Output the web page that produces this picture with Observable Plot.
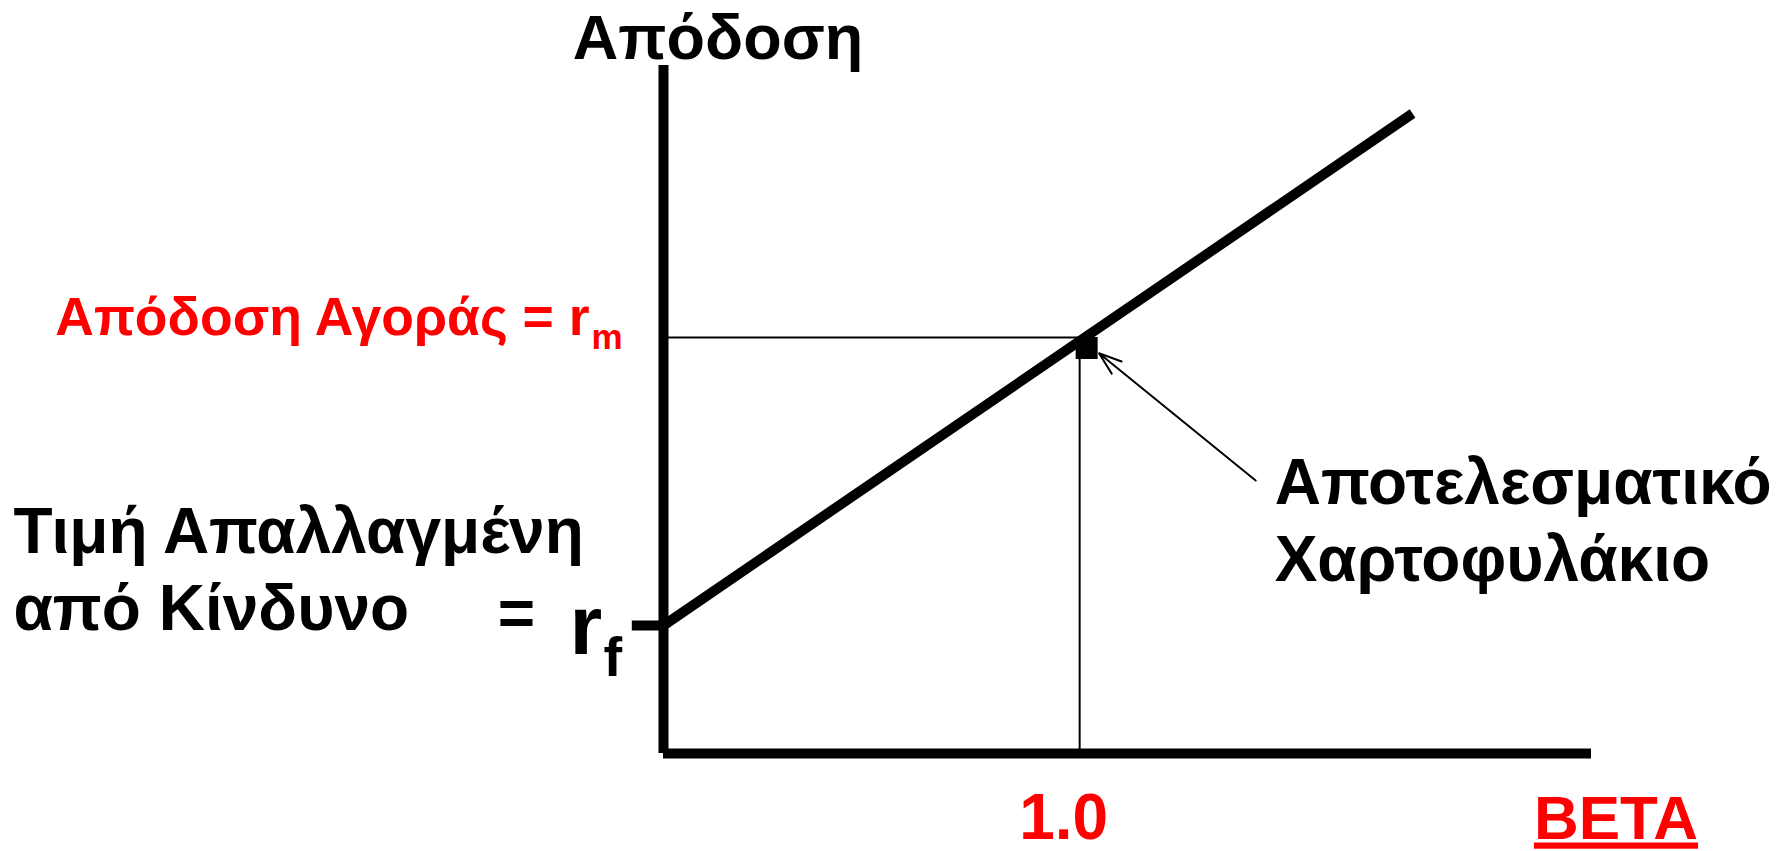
<!DOCTYPE html>
<html>
<head>
<meta charset="utf-8">
<script src="https://cdn.jsdelivr.net/npm/d3@7"></script>
<script src="https://cdn.jsdelivr.net/npm/@observablehq/plot@0.6"></script>
<style>
  html, body { margin: 0; padding: 0; background: #fff; overflow: hidden; }
  #chart svg { display: block; background: #fff; }
</style>
</head>
<body>
<div id="chart"></div>
<script>
// ---- data ----
const smlBeta = [0, 1.8];          // security market line end points (beta)
const smlReturn = [4, 20];         // corresponding returns (arbitrary units)
const riskFreeRate = [4];          // r_f
const marketReturn = [13];         // r_m
const marketBeta = [1.0];          // beta of the market (efficient) portfolio
const betaDomain = [0, 2.23];
const returnDomain = [0, 21.5];
const annotationBeta = [1.423];    // where the arrow label sits
const annotationReturn = [8.53];

// ---- texts ----
const xTickLabels = ["1.0"];
const xAxisLabel = ["BETA"];
const yAxisLabel = ["Απόδοση"];
const marketLabel = ["Απόδοση Αγοράς = r"];
const marketSub = ["m"];
const riskFreeLabel = ["Τιμή Απαλλαγμένη", "από Κίνδυνο"];
const riskFreeEq = ["="];
const riskFreeSymbol = ["r"];
const riskFreeSub = ["f"];
const portfolioLabel = ["Αποτελεσματικό", "Χαρτοφυλάκιο"];

// ---- derived tables ----
const sml = smlBeta.map((b, i) => ({beta: b, ret: smlReturn[i]}));
const market = marketBeta.map((b, i) => ({beta: b, ret: marketReturn[i]}));
const annotation = annotationBeta.map((b, i) => ({beta: b, ret: annotationReturn[i]}));

const FONT = "'Liberation Sans', Arial, Helvetica, sans-serif";
const RED = "#ff0000";
const txt = {fontFamily: FONT, fontWeight: "bold", text: d => d};

const plot = Plot.plot({
  width: 1783,
  height: 851,
  marginLeft: 663,
  marginRight: 192,
  marginTop: 65,
  marginBottom: 98,
  x: {domain: betaDomain, axis: null},
  y: {domain: returnDomain, axis: null},
  marks: [
    // guide lines to the market point
    Plot.ruleY(market, {y: "ret", x1: 0, x2: "beta", stroke: "black", strokeWidth: 2}),
    Plot.ruleX(market, {x: "beta", y1: 0, y2: "ret", stroke: "black", strokeWidth: 2}),
    // security market line
    Plot.line(sml, {x: "beta", y: "ret", stroke: "black", strokeWidth: 10, strokeLinecap: "butt"}),
    // axes
    Plot.ruleX([0], {stroke: "black", strokeWidth: 10}),
    Plot.ruleY([0], {stroke: "black", strokeWidth: 10}),
    // r_f tick on the y axis
    Plot.ruleY(riskFreeRate, {y: d => d, x1: -0.075, x2: 0, stroke: "black", strokeWidth: 10}),
    // market portfolio marker
    Plot.dot(market, {x: "beta", y: "ret", symbol: "square", r: 12.4, fill: "black", dx: 7, dy: 10.5}),
    // arrow from the label to the market portfolio
    Plot.arrow(annotation, {
      x1: "beta", y1: "ret", x2: () => marketBeta[0], y2: () => marketReturn[0],
      stroke: "black", strokeWidth: 2, headLength: 18, headAngle: 38, insetEnd: 25
    }),
    // y axis title
    Plot.text(yAxisLabel, {...txt, x: 0, y: returnDomain[1], dx: 54.5, dy: -7,
      lineAnchor: "bottom", textAnchor: "middle", fontSize: 63, fill: "black"}),
    // market return label
    Plot.text(marketLabel, {...txt, x: 0, y: () => marketReturn[0], dx: -74, dy: -3,
      lineAnchor: "bottom", textAnchor: "end", fontSize: 53.5, fill: RED}),
    Plot.text(marketSub, {...txt, x: 0, y: () => marketReturn[0], dx: -72, dy: 11,
      lineAnchor: "bottom", textAnchor: "start", fontSize: 35, fill: RED}),
    // risk free label
    Plot.text([riskFreeLabel.join("\n")], {...txt, x: 0, y: () => riskFreeRate[0], dx: -650, dy: 4,
      lineAnchor: "bottom", textAnchor: "start", lineHeight: 1.2, fontSize: 64, fill: "black"}),
    Plot.text(riskFreeEq, {...txt, x: 0, y: () => riskFreeRate[0], dx: -147, dy: 9,
      lineAnchor: "bottom", textAnchor: "middle", fontSize: 64, fill: "black"}),
    Plot.text(riskFreeSymbol, {...txt, x: 0, y: () => riskFreeRate[0], dx: -94, dy: 28,
      lineAnchor: "bottom", textAnchor: "start", fontSize: 84, fill: "black"}),
    Plot.text(riskFreeSub, {...txt, x: 0, y: () => riskFreeRate[0], dx: -60, dy: 50,
      lineAnchor: "bottom", textAnchor: "start", fontSize: 56, fill: "black"}),
    // efficient portfolio label
    Plot.text([portfolioLabel.join("\n")], {...txt, x: () => annotationBeta[0], y: () => annotationReturn[0],
      dx: 19, dy: 100, lineAnchor: "bottom", textAnchor: "start", lineHeight: 1.19,
      fontSize: 64, fill: "black"}),
    // x tick label and axis label
    Plot.text(xTickLabels, {...txt, x: (d, i) => marketBeta[i], y: 0, dx: -16, dy: 85,
      lineAnchor: "bottom", textAnchor: "middle", fontSize: 64, fill: RED}),
    Plot.text(xAxisLabel, {...txt, x: betaDomain[1], y: 0, dx: 24.5, dy: 85,
      lineAnchor: "bottom", textAnchor: "middle", fontSize: 62, fill: RED})
  ]
});

d3.select(plot).selectAll("text")
  .filter(function () { return this.textContent === xAxisLabel[0]; })
  .style("text-decoration", "underline");

document.getElementById("chart").appendChild(plot);
</script>
</body>
</html>
